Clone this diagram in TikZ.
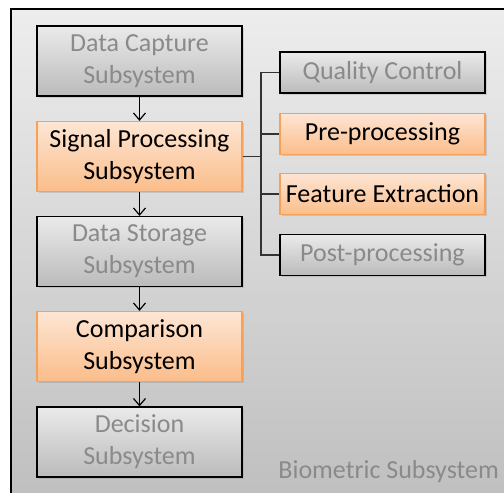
\documentclass[tikz,border=0pt]{standalone}
\usepackage{fontspec}
\setmainfont{Carlito}
\usepackage{tikz}
\usetikzlibrary{arrows.meta,shadows}
\definecolor{boxgraytop}{HTML}{EAEAEA}
\definecolor{boxgraybot}{HTML}{BBBBBB}
\definecolor{boxorgtop}{HTML}{FDE6D4}
\definecolor{boxorgbot}{HTML}{FBBD8A}
\definecolor{boxorgline}{HTML}{F6A05A}
\definecolor{dimtext}{HTML}{8A8A8A}
\definecolor{framebgtop}{HTML}{EDEDED}
\definecolor{framebgbot}{HTML}{BDBDBD}

\begin{document}
\begin{tikzpicture}[
  x=1pt,y=-1pt,
  every node/.style={font=\fontsize{26}{32}\selectfont},
  subbox/.style={draw=black,line width=1.2pt,align=center,
    top color=boxgraytop,bottom color=boxgraybot,text=dimtext,
    drop shadow={shadow xshift=1.5pt,shadow yshift=-1.5pt,opacity=0.25}},
  activebox/.style={subbox,draw=boxorgline,top color=boxorgtop,
    bottom color=boxorgbot,text=black},
  tallbox/.style={minimum width=205pt,minimum height=70pt,inner sep=0pt},
  flatbox/.style={minimum width=205pt,minimum height=41pt,inner sep=0pt},
  flow/.style={line width=1.2pt,-{Straight Barb[length=7pt,width=12pt]}},
  branch/.style={line width=1.2pt,draw=black!80}
]
  \useasboundingbox (0,0) rectangle (504,493);
  \clip (0,0) rectangle (504,493);

  % Rahmen des Gesamtsystems
  \draw[line width=1.2pt,top color=framebgtop,bottom color=framebgbot]
    (11,9) rectangle (530,520);

  % Hauptkette links
  \node[subbox,tallbox] (capture) at (139.5,61)
    {Data Capture\\Subsystem};
  \node[activebox,tallbox] (signal) at (139.5,156.5)
    {Signal Processing\\Subsystem};
  \node[subbox,tallbox] (storage) at (139.5,251.5)
    {Data Storage\\Subsystem};
  \node[activebox,tallbox] (compare) at (139.5,346.5)
    {Comparison\\Subsystem};
  \node[subbox,tallbox] (decide) at (139.5,442)
    {Decision\\Subsystem};

  % Pfeile zwischen den Stufen
  \draw[flow] (capture) -- (signal);
  \draw[flow] (signal) -- (storage);
  \draw[flow] (storage) -- (compare);
  \draw[flow] (compare) -- (decide);

  % Teilschritte der Signalverarbeitung
  \node[subbox,flatbox] (quality) at (382.5,72.5) {Quality Control};
  \node[activebox,flatbox] (preproc) at (382.5,134) {Pre-processing};
  \node[activebox,flatbox] (feature) at (382.5,194) {Feature Extraction};
  \node[subbox,flatbox] (postproc) at (382.5,255) {Post-processing};

  % Verzweigung
  \coordinate (bus) at (261,156.5);
  \draw[branch] (signal.east) -- (bus);
  \draw[branch] (bus) |- (quality.west);
  \draw[branch] (bus) |- (preproc.west);
  \draw[branch] (bus) |- (feature.west);
  \draw[branch] (bus) |- (postproc.west);

  % Beschriftung
  \node[anchor=base east,text=dimtext,inner sep=0pt] (syslabel) at (499,478)
    {Biometric Subsystem};
\end{tikzpicture}
\end{document}
